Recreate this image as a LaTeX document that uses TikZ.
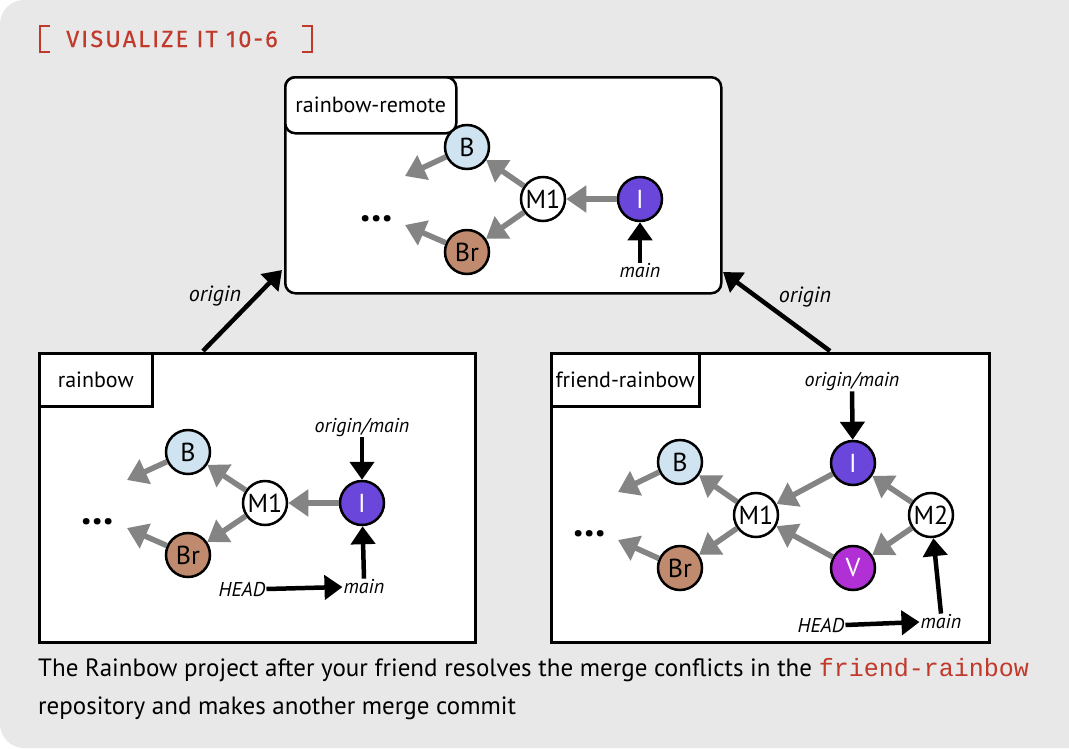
\documentclass[tikz,border=0pt]{standalone}
\usepackage{fontspec}
\setmainfont{PT Sans}
\newfontfamily\monof{Liberation Mono}
\newfontfamily\titlef{Fira Sans}[LetterSpace=9, FakeBold=0.4]
\usetikzlibrary{arrows.meta}
\definecolor{bgc}{HTML}{E8E8E8}
\definecolor{redc}{HTML}{C0392B}
\definecolor{grayar}{HTML}{848484}
\definecolor{bluec}{HTML}{CFE3F1}
\definecolor{brownc}{HTML}{C08A6E}
\definecolor{purplec}{HTML}{6B46DA}
\definecolor{violetc}{HTML}{B030D6}
\tikzset{
  commit/.style={circle, draw=black, line width=2.5pt, minimum size=44pt, inner sep=0pt, font=\fontsize{26}{26}\selectfont},
  garrow/.style={draw=grayar, line width=5.5pt, -{Triangle[length=20pt,width=26pt]}},
  karrow/.style={draw=black, line width=4.5pt, -{Triangle[length=18pt,width=24pt]}},
  lbl/.style={font=\itshape\fontsize{20}{20}\selectfont, inner sep=1pt},
  biglbl/.style={font=\itshape\fontsize{22}{22}\selectfont, inner sep=1pt},
  repobox/.style={draw=black, fill=white, line width=2.5pt, anchor=north west, inner sep=0pt},
  tabbox/.style={draw=black, fill=white, line width=2.5pt, anchor=north west, inner sep=0pt, font=\fontsize{22}{22}\selectfont},
  dots/.style={font=\bfseries\fontsize{42}{42}\selectfont, inner sep=0pt}
}
\begin{document}
\begin{tikzpicture}[x=1pt,y=-1pt]
\useasboundingbox (0,0) rectangle (1069,748);
\fill[bgc, rounded corners=24pt] (0,0) rectangle (1100,748);
% title
\draw[redc, line width=2.5pt] (50,26) -- (40,26) -- (40,52) -- (50,52);
\draw[redc, line width=2.5pt] (302,26) -- (312,26) -- (312,52) -- (302,52);
\node[anchor=base west, inner sep=0pt, text=redc, font=\titlef\fontsize{23.5}{23.5}\selectfont] (title) at (66,47) {VISUALIZE IT 10-6};

% ===== remote =====
\node[repobox, rounded corners=10pt, minimum width=436pt, minimum height=216pt] (remote) at (284,76) {};
\node[tabbox, rounded corners=10pt, minimum width=171pt, minimum height=56pt] (remotetab) at (284,76) {rainbow-remote};
\node[commit, fill=bluec] (rB) at (467,147) {B};
\node[commit, fill=brownc] (rBr) at (467,252) {Br};
\node[commit, fill=white] (rM1) at (543,199) {M1};
\node[commit, fill=purplec, text=white] (rI) at (640,199) {I};
\node[dots] (rdots) at (377,219) {...};
\coordinate (rBe) at (405,176);
\coordinate (rBre) at (405,225);
\draw[garrow] (rB) -- (rBe);
\draw[garrow] (rBr) -- (rBre);
\draw[garrow] (rM1) -- (rB);
\draw[garrow] (rM1) -- (rBr);
\draw[garrow] (rI) -- (rM1);
\node[lbl] (rmain) at (640,271) {main};
\draw[karrow] (rmain.north) -- (rI);

% ===== rainbow =====
\node[repobox, minimum width=436pt, minimum height=289pt] (rainbow) at (38,352) {};
\node[tabbox, minimum width=113pt, minimum height=53pt] (rainbowtab) at (38,352) {rainbow};
\node[commit, fill=bluec] (aB) at (188,452) {B};
\node[commit, fill=brownc] (aBr) at (188,555) {Br};
\node[commit, fill=white] (aM1) at (265,503) {M1};
\node[commit, fill=purplec, text=white] (aI) at (362,503) {I};
\node[dots] (adots) at (98,522) {...};
\coordinate (aBe) at (127,480);
\coordinate (aBre) at (127,528);
\draw[garrow] (aB) -- (aBe);
\draw[garrow] (aBr) -- (aBre);
\draw[garrow] (aM1) -- (aB);
\draw[garrow] (aM1) -- (aBr);
\draw[garrow] (aI) -- (aM1);
\node[lbl] (aorig) at (362,427) {origin/main};
\draw[karrow] (aorig.south) -- (aI);
\node[lbl] (amain) at (364,587) {main};
\node[lbl] (ahead) at (242,589) {HEAD};
\draw[karrow] (amain.north) -- (aI);
\draw[karrow] (ahead.east) -- (amain.west);

% ===== friend-rainbow =====
\node[repobox, minimum width=438pt, minimum height=289pt] (friend) at (550,352) {};
\node[tabbox, minimum width=148pt, minimum height=53pt] (friendtab) at (550,352) {friend-rainbow};
\node[commit, fill=bluec] (fB) at (680,462) {B};
\node[commit, fill=brownc] (fBr) at (680,568) {Br};
\node[commit, fill=white] (fM1) at (756,515) {M1};
\node[commit, fill=purplec, text=white] (fI) at (853,463) {I};
\node[commit, fill=violetc, text=white] (fV) at (853,568) {V};
\node[commit, fill=white] (fM2) at (931,515) {M2};
\node[dots] (fdots) at (590,534) {...};
\coordinate (fBe) at (618,492);
\coordinate (fBre) at (618,540);
\draw[garrow] (fB) -- (fBe);
\draw[garrow] (fBr) -- (fBre);
\draw[garrow] (fM1) -- (fB);
\draw[garrow] (fM1) -- (fBr);
\draw[garrow] (fI) -- (fM1);
\draw[garrow] (fV) -- (fM1);
\draw[garrow] (fM2) -- (fI);
\draw[garrow] (fM2) -- (fV);
\node[lbl] (forig) at (852,381) {origin/main};
\draw[karrow] (forig.south) -- (fI);
\node[lbl] (fmain) at (941,622) {main};
\node[lbl] (fhead) at (821,625) {HEAD};
\draw[karrow] (fmain.north) -- (fM2);
\draw[karrow] (fhead.east) -- (fmain.west);

% ===== origin arrows =====
\coordinate (o1s) at (203,351);
\coordinate (o1e) at (282,270);
\draw[karrow] (o1s) -- (o1e);
\node[biglbl] (o1l) at (215,296) {origin};
\coordinate (o2s) at (830,351);
\coordinate (o2e) at (723,272);
\draw[karrow] (o2s) -- (o2e);
\node[biglbl] (o2l) at (805,297) {origin};

% caption
\node[anchor=base west, inner sep=0pt, font=\fontsize{25}{25}\selectfont] (cap1) at (38,676) {The Rainbow project after your friend resolves the merge conflicts in the {\monof\fontsize{25}{25}\selectfont\color{redc}friend-rainbow}};
\node[anchor=base west, inner sep=0pt, font=\fontsize{25}{25}\selectfont] (cap2) at (38,714) {repository and makes another merge commit};
\end{tikzpicture}
\end{document}
